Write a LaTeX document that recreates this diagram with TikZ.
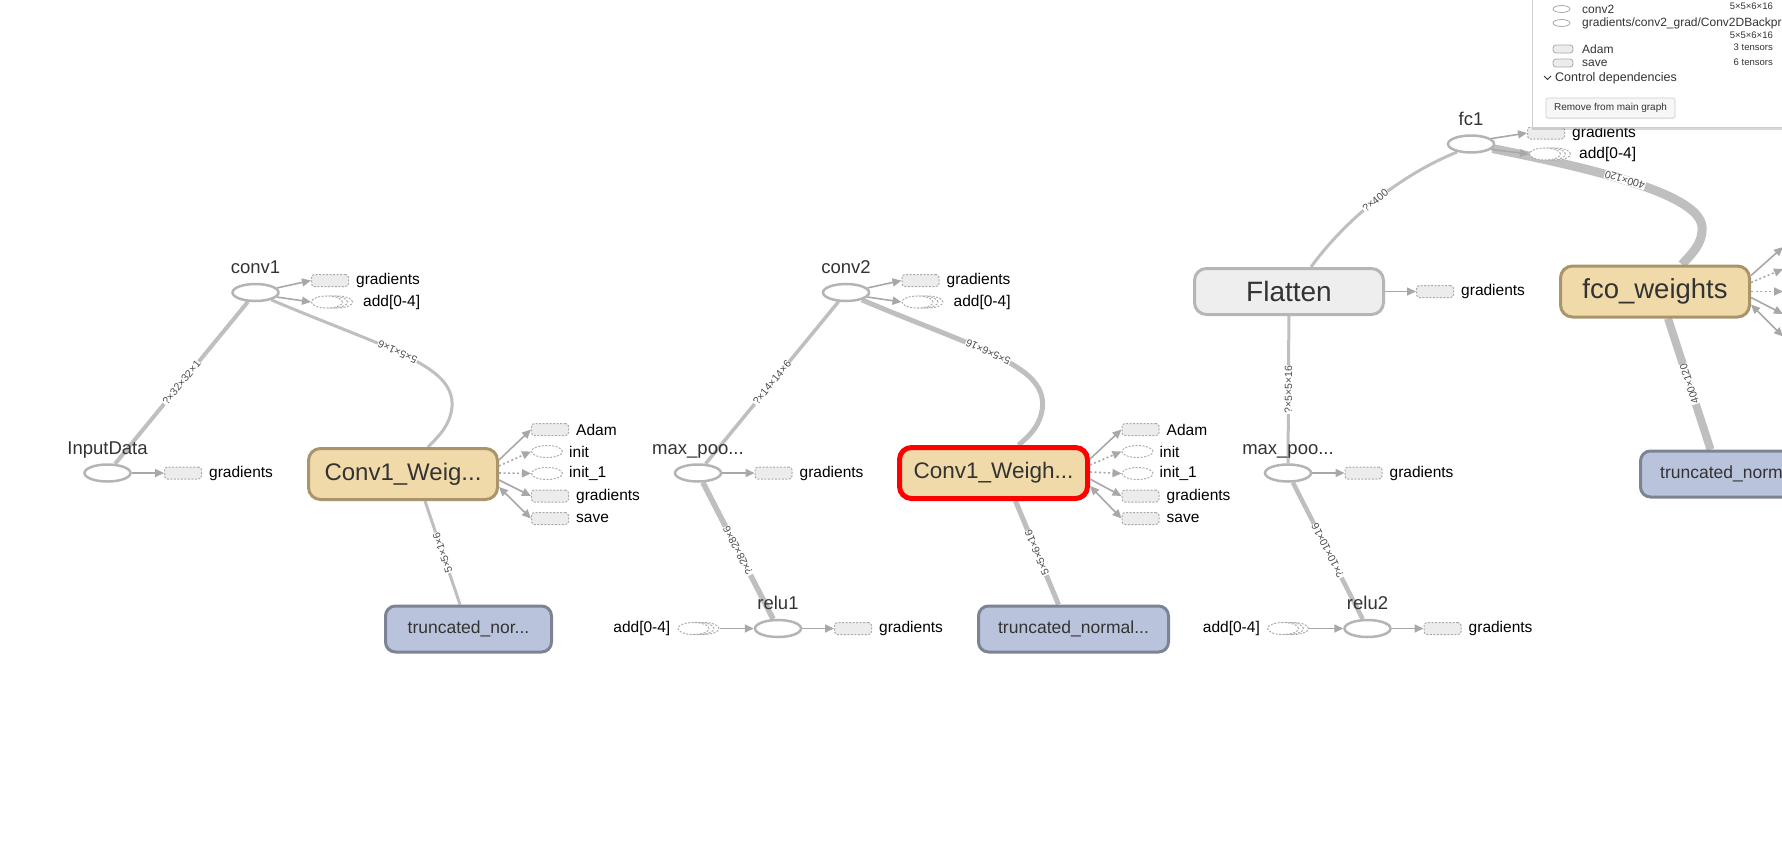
\documentclass[tikz,border=0pt]{standalone}
\usepackage{fontspec}
\setmainfont{Liberation Sans}
\usepackage{xcolor}
\usepackage{tikz}
\usetikzlibrary{arrows.meta,positioning,shapes.geometric,shadows}
\definecolor{edgegray}{RGB}{191,191,191}
\definecolor{opline}{RGB}{180,180,180}
\definecolor{auxline}{RGB}{170,170,170}
\definecolor{auxfill}{RGB}{236,236,236}
\definecolor{arrowgray}{RGB}{168,168,168}
\definecolor{varfill}{RGB}{240,218,169}
\definecolor{varline}{RGB}{170,148,108}
\definecolor{normfill}{RGB}{185,196,220}
\definecolor{normline}{RGB}{124,131,148}
\definecolor{metafill}{RGB}{238,238,238}
\definecolor{metaline}{RGB}{182,182,182}
\definecolor{textdark}{RGB}{51,51,51}
\definecolor{labelgray}{RGB}{75,75,75}
\definecolor{selred}{RGB}{255,0,0}
\definecolor{panelline}{RGB}{205,205,205}
\pgfdeclarelayer{edges}
\pgfsetlayers{edges,main}
\tikzset{
  opnode/.style={
    ellipse,
    draw=opline,
    line width=2.5pt,
    fill=white,
    minimum width=46pt,
    minimum height=17pt,
    inner sep=0pt
  },
  oplabel/.style={
    inner sep=0pt,
    anchor=base,
    text=textdark,
    font=\fontsize{18.5}{20}\selectfont
  },
  auxbox/.style={
    rectangle,
    rounded corners=3pt,
    draw=auxline,
    fill=auxfill,
    line width=1pt,
    dash pattern=on 2pt off 1.5pt,
    minimum width=37pt,
    minimum height=12pt,
    inner sep=0pt
  },
  auxell/.style={
    ellipse,
    draw=auxline,
    fill=white,
    line width=1pt,
    dash pattern=on 2pt off 1.5pt,
    minimum width=31pt,
    minimum height=12pt,
    inner sep=0pt
  },
  auxseries/.style={
    auxell,
    general shadow={shadow xshift=10pt, shadow yshift=0pt, draw=auxline, fill=white,
      line width=1pt, dash pattern=on 2pt off 1.5pt},
    general shadow={shadow xshift=5pt, shadow yshift=0pt, draw=auxline, fill=white,
      line width=1pt, dash pattern=on 2pt off 1.5pt}
  },
  auxtext/.style={
    inner sep=0pt,
    text=black,
    font=\fontsize{15.5}{17}\selectfont
  },
  auxarrow/.style={
    -{Triangle[length=9pt,width=8pt]},
    draw=arrowgray,
    line width=1.6pt
  },
  ctrlarrow/.style={
    auxarrow,
    dash pattern=on 2pt off 2.5pt
  },
  savearrow/.style={
    auxarrow,
    {Triangle[length=9pt,width=8pt]}-{Triangle[length=9pt,width=8pt]}
  },
  varbox/.style={
    rectangle,
    rounded corners=12pt,
    draw=varline,
    fill=varfill,
    line width=3pt,
    minimum width=189pt,
    minimum height=51pt,
    inner sep=0pt,
    text=textdark,
    font=\fontsize{24}{26}\selectfont
  },
  selbox/.style={
    varbox,
    draw=selred,
    line width=5pt,
    minimum width=188pt,
    minimum height=51pt,
    font=\fontsize{22.5}{24}\selectfont
  },
  metabox/.style={
    varbox,
    draw=metaline,
    fill=metafill,
    minimum height=46pt,
    font=\fontsize{28}{30}\selectfont
  },
  normbox/.style={
    rectangle,
    rounded corners=10pt,
    draw=normline,
    fill=normfill,
    line width=3pt,
    minimum height=46pt,
    inner sep=0pt,
    text=textdark,
    font=\fontsize{17.5}{19}\selectfont
  },
  dataedge/.style={
    draw=edgegray
  },
  elabel/.style={
    sloped,
    allow upside down,
    fill=white,
    inner sep=0.5pt,
    text=labelgray,
    font=\fontsize{10.5}{10.5}\selectfont
  },
  panelbox/.style={
    rectangle,
    draw=panelline,
    line width=0.8pt,
    fill=white,
    minimum width=280pt,
    minimum height=139pt,
    drop shadow={shadow xshift=0pt, shadow yshift=-2.5pt, opacity=0.3}
  },
  paneltext/.style={
    anchor=west,
    inner sep=0pt,
    text=textdark,
    font=\fontsize{12}{13}\selectfont
  },
  panelsmall/.style={
    anchor=east,
    inner sep=0pt,
    text=textdark,
    font=\fontsize{9.5}{10}\selectfont
  },
  iconell/.style={
    ellipse,
    draw=auxline,
    line width=0.8pt,
    minimum width=17pt,
    minimum height=7pt,
    inner sep=0pt
  },
  iconbox/.style={
    rectangle,
    rounded corners=3pt,
    draw=auxline,
    fill=auxfill,
    line width=0.8pt,
    minimum width=20pt,
    minimum height=8pt,
    inner sep=0pt
  },
  panelbtn/.style={
    rectangle,
    rounded corners=2pt,
    draw=panelline,
    fill=white!97!black,
    line width=0.6pt,
    minimum width=129pt,
    minimum height=20pt,
    inner sep=0pt,
    text=textdark,
    font=\fontsize{10}{11}\selectfont
  }
}

\begin{document}
\begin{tikzpicture}[x=1pt,y=-1pt]
\useasboundingbox (0,0) rectangle (1782,863);

% first block
\node[opnode] (inputdata) at (107.5,473) {};
\node[oplabel] (inputdatalbl) at (107.5,454) {InputData};
\node[auxbox] (inpgrad) at (183,473) {};
\node[auxtext, right=7pt of inpgrad] (inpgradtxt) {gradients};
\node[opnode] (conv1) at (255.5,292.5) {};
\node[oplabel] (conv1lbl) at (255.5,273.5) {conv1};
\node[auxbox] (c1grad) at (330,280.5) {};
\node[auxtext, right=7pt of c1grad] (c1gradtxt) {gradients};
\node[auxseries] (c1add) at (327,302) {};
\node[auxtext, right=20pt of c1add] (c1addtxt) {add[0-4]};
\node[varbox] (cw1) at (403,474) {Conv1\_Weig...};
\node[auxbox] (w1adam) at (550,429.5) {};
\node[auxtext, right=7pt of w1adam] (w1adamtxt) {Adam};
\node[auxell] (w1init) at (547,451.5) {};
\node[auxtext, right=6pt of w1init] (w1inittxt) {init};
\node[auxell] (w1initb) at (547,473.5) {};
\node[auxtext, right=6pt of w1initb] (w1initbtxt) {init\_1};
\node[auxbox] (w1grad) at (550,496) {};
\node[auxtext, right=7pt of w1grad] (w1gradtxt) {gradients};
\node[auxbox] (w1save) at (550,518.5) {};
\node[auxtext, right=7pt of w1save] (w1savetxt) {save};
\node[normbox, minimum width=166pt] (tn1) at (468.5,629) {truncated\_nor...};

% second block
\node[opnode] (maxpool1) at (698,473) {};
\node[oplabel] (maxpool1lbl) at (698,454) {max\_poo...};
\node[auxbox] (mp1grad) at (773.5,473) {};
\node[auxtext, right=7pt of mp1grad] (mp1gradtxt) {gradients};
\node[opnode] (conv2) at (846,292.5) {};
\node[oplabel] (conv2lbl) at (846,273.5) {conv2};
\node[auxbox] (c2grad) at (920.5,280.5) {};
\node[auxtext, right=7pt of c2grad] (c2gradtxt) {gradients};
\node[auxseries] (c2add) at (917.5,302) {};
\node[auxtext, right=20pt of c2add] (c2addtxt) {add[0-4]};
\node[selbox] (cw2) at (993.5,473) {Conv1\_Weigh...};
\node[auxbox] (w2adam) at (1140.5,429.5) {};
\node[auxtext, right=7pt of w2adam] (w2adamtxt) {Adam};
\node[auxell] (w2init) at (1137.5,451.5) {};
\node[auxtext, right=6pt of w2init] (w2inittxt) {init};
\node[auxell] (w2initb) at (1137.5,473.5) {};
\node[auxtext, right=6pt of w2initb] (w2initbtxt) {init\_1};
\node[auxbox] (w2grad) at (1140.5,496) {};
\node[auxtext, right=7pt of w2grad] (w2gradtxt) {gradients};
\node[auxbox] (w2save) at (1140.5,518.5) {};
\node[auxtext, right=7pt of w2save] (w2savetxt) {save};
\node[opnode] (relu1) at (778,628.5) {};
\node[oplabel] (relu1lbl) at (778,609.5) {relu1};
\node[auxseries] (r1add) at (693.5,628.5) {};
\node[auxtext, left=7pt of r1add] (r1addtxt) {add[0-4]};
\node[auxbox] (r1grad) at (853,628.5) {};
\node[auxtext, right=7pt of r1grad] (r1gradtxt) {gradients};
\node[normbox, minimum width=190pt] (tn2) at (1073.5,629) {truncated\_normal...};

% third block
\node[metabox] (flatten) at (1289,291.5) {Flatten};
\node[auxbox] (flgrad) at (1435,291.5) {};
\node[auxtext, right=7pt of flgrad] (flgradtxt) {gradients};
\node[opnode] (maxpool2) at (1288,473) {};
\node[oplabel] (maxpool2lbl) at (1288,454) {max\_poo...};
\node[auxbox] (mp2grad) at (1363.5,473) {};
\node[auxtext, right=7pt of mp2grad] (mp2gradtxt) {gradients};
\node[opnode] (relu2) at (1367.5,628.5) {};
\node[oplabel] (relu2lbl) at (1367.5,609.5) {relu2};
\node[auxseries] (r2add) at (1283,628.5) {};
\node[auxtext, left=7pt of r2add] (r2addtxt) {add[0-4]};
\node[auxbox] (r2grad) at (1442.5,628.5) {};
\node[auxtext, right=7pt of r2grad] (r2gradtxt) {gradients};
\node[opnode] (fc1) at (1471,144) {};
\node[oplabel] (fc1lbl) at (1471,125) {fc1};
\node[auxbox] (fcgrad) at (1546,133) {};
\node[auxtext, right=7pt of fcgrad] (fcgradtxt) {gradients};
\node[auxseries] (fcadd) at (1545,154) {};
\node[auxtext, right=18pt of fcadd] (fcaddtxt) {add[0-4]};
\node[varbox, font=\fontsize{27.5}{29}\selectfont] (fcoweights) at (1655,291.5) {fco\_weights};
\node[normbox, minimum width=190pt] (tn3) at (1735.5,474) {truncated\_normal...};
\coordinate (fcoadam) at (1783,247);
\coordinate (fcoinit) at (1783,269);
\coordinate (fcoinitb) at (1783,291.5);
\coordinate (fcograd) at (1783,314);
\coordinate (fcosave) at (1783,336.5);

% data edges
\begin{pgfonlayer}{edges}
\fill[white] (0,0) rectangle (1782,863);
\draw[dataedge, line width=4pt] (inputdata) -- node[elabel] {?×32×32×1} (conv1);
\draw[dataedge, line width=3pt] ([xshift=25pt]cw1.north) .. controls (440,435) and (450,425) .. (452,407)
  .. controls (455,365) and (390,350) .. (conv1.-25) node[elabel, pos=0.55] {5×5×1×6};
\draw[dataedge, line width=3pt] ([xshift=-8.5pt]tn1.north) -- node[elabel] {5×5×1×6} ([xshift=22pt]cw1.south);
\draw[dataedge, line width=3.5pt] (maxpool1) -- node[elabel] {?×14×14×6} (conv2);
\draw[dataedge, line width=5pt] ([xshift=25pt]cw2.north) .. controls (1030.5,435) and (1040.5,425) .. (1042.5,407)
  .. controls (1045.5,365) and (980.5,350) .. (conv2.-25) node[elabel, pos=0.55] {5×5×6×16};
\draw[dataedge, line width=5pt] ([xshift=-15pt]tn2.north) -- node[elabel] {5×5×6×16} ([xshift=22pt]cw2.south);
\draw[dataedge, line width=5.5pt] (relu1) -- node[elabel] {?×28×28×6} (maxpool1);
\draw[dataedge, line width=3pt] (maxpool2) -- node[elabel] {?×5×5×16} (flatten);
\draw[dataedge, line width=4.5pt] (relu2) -- node[elabel] {?×10×10×16} (maxpool2);
\draw[dataedge, line width=3pt] ([xshift=22pt]flatten.north) .. controls (1345,220) and (1400,175) .. (fc1.-150)
  node[elabel, pos=0.5] {?×400};
\draw[dataedge, line width=9pt] ([xshift=27pt]fcoweights.north) .. controls (1690,255) and (1703,245) .. (1702,227)
  .. controls (1700,195) and (1600,170) .. (fc1.-12) node[elabel, pos=0.55] {400×120};
\draw[dataedge, line width=8pt] ([xshift=-25pt]tn3.north) -- node[elabel] {400×120} ([xshift=13pt]fcoweights.south);
\end{pgfonlayer}

% auxiliary arrows
\draw[auxarrow] (inputdata.east) -- (inpgrad.west);
\draw[auxarrow] (conv1.12) -- (c1grad.west);
\draw[auxarrow] (conv1.-12) -- (c1add.west);
\draw[auxarrow] ([yshift=14pt]cw1.east) -- (w1adam.west);
\draw[ctrlarrow] ([yshift=8pt]cw1.east) -- (w1init.west);
\draw[ctrlarrow] ([yshift=1pt]cw1.east) -- (w1initb.west);
\draw[auxarrow] ([yshift=-6pt]cw1.east) -- (w1grad.west);
\draw[savearrow] ([yshift=-13pt]cw1.east) -- (w1save.west);
\draw[auxarrow] (maxpool1.east) -- (mp1grad.west);
\draw[auxarrow] (conv2.12) -- (c2grad.west);
\draw[auxarrow] (conv2.-12) -- (c2add.west);
\draw[auxarrow] ([yshift=14pt]cw2.east) -- (w2adam.west);
\draw[ctrlarrow] ([yshift=8pt]cw2.east) -- (w2init.west);
\draw[ctrlarrow] ([yshift=1pt]cw2.east) -- (w2initb.west);
\draw[auxarrow] ([yshift=-6pt]cw2.east) -- (w2grad.west);
\draw[savearrow] ([yshift=-13pt]cw2.east) -- (w2save.west);
\draw[auxarrow] ([xshift=10pt]r1add.east) -- (relu1.west);
\draw[auxarrow] (relu1.east) -- (r1grad.west);
\draw[auxarrow] (flatten.east) -- (flgrad.west);
\draw[auxarrow] (maxpool2.east) -- (mp2grad.west);
\draw[auxarrow] ([xshift=10pt]r2add.east) -- (relu2.west);
\draw[auxarrow] (relu2.east) -- (r2grad.west);
\draw[auxarrow] (fc1.15) -- (fcgrad.west);
\draw[auxarrow] (fc1.-15) -- (fcadd.west);
\draw[auxarrow] ([yshift=16pt]fcoweights.east) -- (fcoadam);
\draw[ctrlarrow] ([yshift=9pt]fcoweights.east) -- (fcoinit);
\draw[ctrlarrow] ([yshift=0pt]fcoweights.east) -- (fcoinitb);
\draw[auxarrow] ([yshift=-6pt]fcoweights.east) -- (fcograd);
\draw[savearrow] ([yshift=-13pt]fcoweights.east) -- (fcosave);

% info panel
\node[panelbox, anchor=north west] (infopanel) at (1532,-12) {};
\node[iconell] (iconconv) at (1561.5,9) {};
\node[paneltext] (rowconv) at (1582,9) {conv2};
\node[iconell] (icongrad) at (1561.5,23) {};
\node[paneltext] (rowgrad) at (1582,23) {gradients/conv2\_grad/Conv2DBackprop...};
\node[iconbox] (iconadam) at (1563,49) {};
\node[paneltext] (rowadam) at (1582,49) {Adam};
\node[iconbox] (iconsave) at (1563,63) {};
\node[paneltext] (rowsave) at (1582,63) {save};
\node[panelsmall] (shapeconv) at (1773,6) {5×5×6×16};
\node[panelsmall] (shapegrad) at (1773,35) {5×5×6×16};
\node[panelsmall] (countadam) at (1773,47) {3 tensors};
\node[panelsmall] (countsave) at (1773,62) {6 tensors};
\draw[textdark, line width=0.8pt] (1544,76) -- (1547.5,79.5) -- (1551,76);
\node[paneltext, font=\fontsize{12.5}{13}\selectfont] (ctrldeps) at (1555,78) {Control dependencies};
\node[panelbtn, drop shadow={shadow xshift=0pt, shadow yshift=-1pt, opacity=0.15}] (removebtn) at (1610.5,108) {Remove from main graph};
\end{tikzpicture}
\end{document}
